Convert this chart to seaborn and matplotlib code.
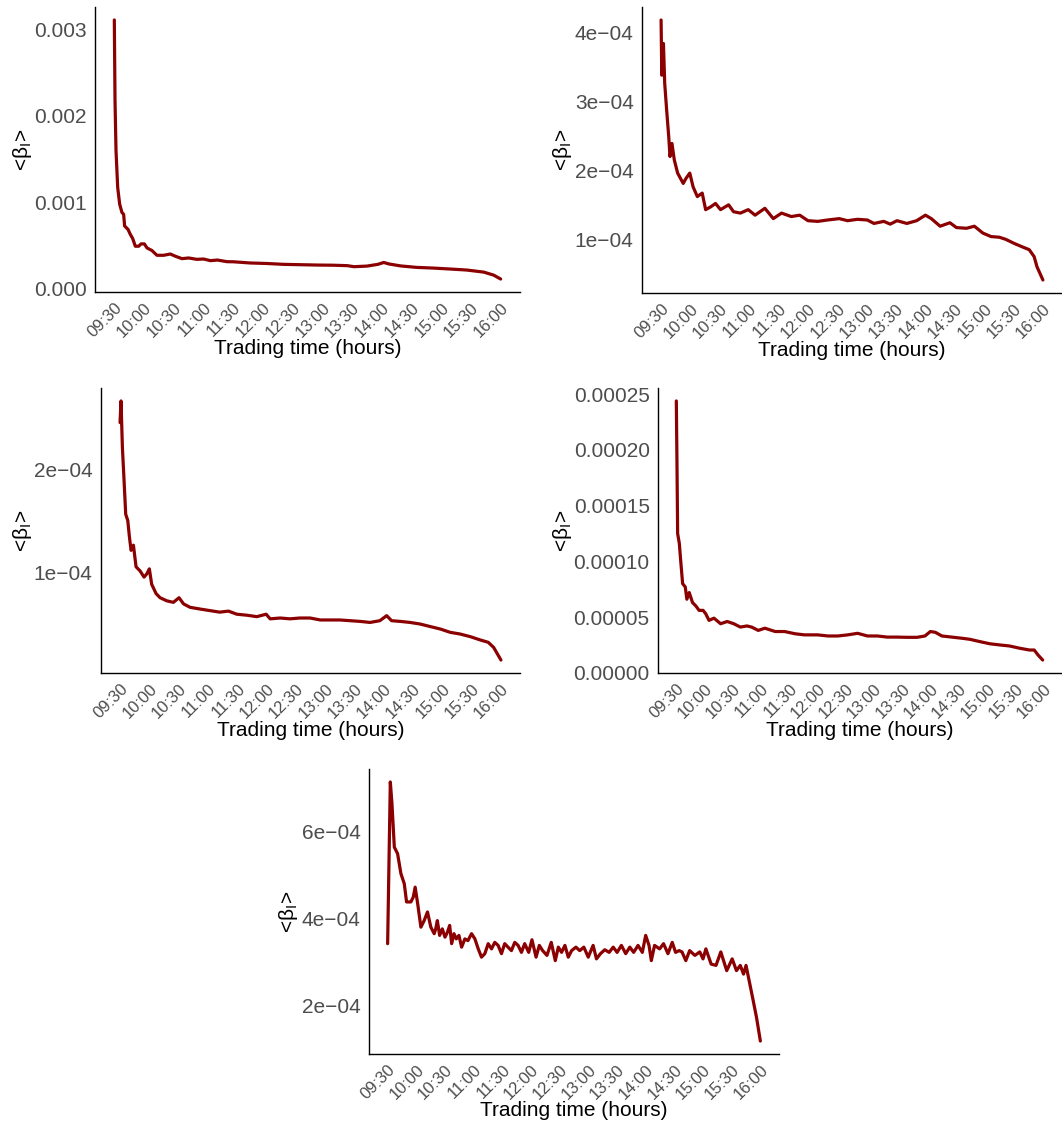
import matplotlib
matplotlib.use("Agg")
import matplotlib.pyplot as plt
import seaborn as sns
import pandas as pd

sns.set_style("white")
plt.rcParams['font.family'] = ['Liberation Sans', 'DejaVu Sans']
plt.rcParams['mathtext.fontset'] = 'custom'
plt.rcParams['mathtext.rm'] = 'Liberation Sans'
plt.rcParams['mathtext.it'] = 'Liberation Sans:italic'

# ---------------- data ----------------
time_ticks = [0, 30, 60, 90, 120, 150, 180, 210, 240, 270, 300, 330, 360, 390]
time_labels = ["09:30", "10:00", "10:30", "11:00", "11:30", "12:00", "12:30",
               "13:00", "13:30", "14:00", "14:30", "15:00", "15:30", "16:00"]

p1_min = [0, 0.7, 1.7, 3.4, 5.4, 7.7, 9.4, 10.4, 13.8, 16.2, 18.5, 21.2, 24.6, 27, 30.3,
          33, 38, 43, 49.8, 56.5, 61.6, 68.3, 75, 83.4, 90, 97, 104, 113.7, 120, 137, 154,
          171, 188, 205, 221, 235, 242, 255, 266, 272, 277, 289, 305, 322, 339, 356, 373, 383, 390]
p1_val = [3.109e-3, 2.18e-3, 1.60e-3, 1.17e-3, 0.977e-3, 0.88e-3, 0.86e-3, 0.724e-3, 0.685e-3,
          0.626e-3, 0.58e-3, 0.49e-3, 0.49e-3, 0.517e-3, 0.517e-3, 0.47e-3, 0.44e-3, 0.385e-3,
          0.385e-3, 0.40e-3, 0.374e-3, 0.346e-3, 0.354e-3, 0.338e-3, 0.342e-3, 0.323e-3, 0.33e-3,
          0.311e-3, 0.31e-3, 0.296e-3, 0.29e-3, 0.28e-3, 0.276e-3, 0.272e-3, 0.27e-3, 0.265e-3,
          0.253e-3, 0.26e-3, 0.28e-3, 0.302e-3, 0.285e-3, 0.262e-3, 0.245e-3, 0.237e-3, 0.226e-3,
          0.214e-3, 0.19e-3, 0.155e-3, 0.11e-3]

p2_min = [0, 0.7, 2.4, 3.7, 5.7, 7.8, 9.1, 11.1, 13.5, 16.9, 22.6, 25.3, 29.3, 32.7, 37, 42,
          45.5, 50.6, 55.6, 60.7, 69, 74, 81, 89, 96, 106, 114.6, 123, 133, 141.6, 150, 160,
          170, 182, 190.5, 200.6, 210.7, 217.4, 227.5, 234, 241, 251, 261, 270, 276, 285, 295,
          301.7, 312, 320, 328.7, 337, 345.5, 352, 360.7, 369, 376, 381, 384, 390]
p2_val = [4.18e-4, 3.38e-4, 3.84e-4, 3.26e-4, 2.87e-4, 2.49e-4, 2.20e-4, 2.39e-4, 2.15e-4,
          1.96e-4, 1.81e-4, 1.88e-4, 1.96e-4, 1.76e-4, 1.62e-4, 1.67e-4, 1.43e-4, 1.47e-4,
          1.52e-4, 1.43e-4, 1.50e-4, 1.40e-4, 1.38e-4, 1.43e-4, 1.35e-4, 1.45e-4, 1.30e-4,
          1.38e-4, 1.33e-4, 1.35e-4, 1.27e-4, 1.26e-4, 1.28e-4, 1.30e-4, 1.27e-4, 1.29e-4,
          1.28e-4, 1.23e-4, 1.26e-4, 1.22e-4, 1.27e-4, 1.23e-4, 1.27e-4, 1.35e-4, 1.30e-4,
          1.19e-4, 1.24e-4, 1.17e-4, 1.16e-4, 1.19e-4, 1.09e-4, 1.04e-4, 1.03e-4, 1.00e-4,
          0.94e-4, 0.89e-4, 0.85e-4, 0.75e-4, 0.60e-4, 0.41e-4]

p3_min = [0, 1, 2.4, 4.1, 5.8, 7.9, 9.6, 11.3, 13.7, 16.4, 20.5, 24.6, 27.3, 30, 32.4, 36.9,
          41, 47.8, 54.6, 60.4, 65, 71.7, 82, 92, 102, 111, 119.5, 130, 140, 149.6, 153.7,
          164, 174, 184, 194.6, 205, 215, 225, 235.6, 246, 256, 266, 273, 278, 287, 297, 307,
          317.6, 328, 338, 348, 358.6, 368.8, 377, 382.5, 390]
p3_val = [2.46e-4, 2.67e-4, 2.22e-4, 1.90e-4, 1.57e-4, 1.51e-4, 1.35e-4, 1.22e-4, 1.27e-4,
          1.06e-4, 1.02e-4, 0.96e-4, 0.99e-4, 1.04e-4, 0.89e-4, 0.80e-4, 0.76e-4, 0.73e-4,
          0.715e-4, 0.76e-4, 0.70e-4, 0.667e-4, 0.65e-4, 0.635e-4, 0.62e-4, 0.63e-4, 0.60e-4,
          0.59e-4, 0.576e-4, 0.60e-4, 0.555e-4, 0.563e-4, 0.555e-4, 0.563e-4, 0.563e-4,
          0.544e-4, 0.544e-4, 0.544e-4, 0.537e-4, 0.53e-4, 0.52e-4, 0.537e-4, 0.586e-4,
          0.537e-4, 0.53e-4, 0.52e-4, 0.505e-4, 0.48e-4, 0.456e-4, 0.424e-4, 0.408e-4,
          0.382e-4, 0.35e-4, 0.327e-4, 0.278e-4, 0.155e-4]

p4_min = [0, 0.7, 1.4, 3.2, 4.9, 6.7, 9.5, 11.2, 13.7, 17.2, 20.7, 24.2, 28.4, 31.2, 34.7, 40,
          47, 54, 61, 68, 75, 80, 87, 94, 105, 115, 126, 136, 150, 161, 171.5, 182, 192.5, 203,
          213.6, 224, 234.6, 245, 255.6, 264, 269.7, 275, 282, 292.5, 303, 311.8, 322, 333, 343,
          354, 364.6, 375, 380, 384, 389]
p4_val = [2.44e-4, 1.88e-4, 1.25e-4, 1.16e-4, 0.98e-4, 0.80e-4, 0.77e-4, 0.66e-4, 0.72e-4,
          0.63e-4, 0.60e-4, 0.56e-4, 0.56e-4, 0.53e-4, 0.47e-4, 0.49e-4, 0.44e-4, 0.46e-4,
          0.44e-4, 0.41e-4, 0.42e-4, 0.41e-4, 0.38e-4, 0.40e-4, 0.37e-4, 0.37e-4, 0.35e-4,
          0.34e-4, 0.34e-4, 0.33e-4, 0.33e-4, 0.34e-4, 0.354e-4, 0.33e-4, 0.33e-4, 0.32e-4,
          0.32e-4, 0.318e-4, 0.318e-4, 0.33e-4, 0.37e-4, 0.363e-4, 0.33e-4, 0.32e-4, 0.31e-4,
          0.30e-4, 0.28e-4, 0.26e-4, 0.25e-4, 0.24e-4, 0.22e-4, 0.204e-4, 0.204e-4, 0.16e-4,
          0.114e-4]

p5_min = [0, 2.8, 4.5, 7, 10.4, 13.9, 17.4, 19.8, 24.3, 26.8, 28.8, 31.3, 34.8, 38.2, 41.7,
          45.2, 48.7,
          50.3, 52, 54.4, 57.2, 60, 62.5, 64.9, 67, 69.4, 71.8, 74.6, 77.4, 80.8, 84, 87.8, 91.3,
          94.8, 98.2, 101.7, 105.2, 108.7, 112.1, 115.6, 119.1, 122.5, 126, 129.5, 133, 136.5,
          140, 143.4, 147.6, 151, 155.3, 158.7, 162.2, 166.7, 171.2, 175.4,
          178.6, 182, 185.5, 189, 192.5, 197, 201, 205.3, 209.9, 215, 218.5, 222.7, 227.2,
          231.8, 236, 240.1, 244.6, 249.1, 253.4, 257.4, 262, 266.5, 270, 273.5, 275.9, 279.3,
          284.6, 288.7, 293.3, 297.8, 301.3,
          305, 308, 312, 316, 321.5, 326.6, 330, 333, 338.5, 343.6, 348.6, 354.8, 360.5, 365,
          369, 372.4, 375, 379, 382.5, 386, 390]
p5_val = [3.42e-4, 7.14e-4, 6.65e-4, 5.64e-4, 5.49e-4, 5.03e-4, 4.80e-4, 4.38e-4, 4.38e-4,
          4.49e-4, 4.72e-4, 4.36e-4, 3.80e-4, 3.95e-4, 4.15e-4, 3.80e-4, 3.65e-4,
          3.76e-4, 3.95e-4, 3.61e-4, 3.76e-4, 3.57e-4, 3.68e-4, 3.84e-4, 3.42e-4, 3.65e-4,
          3.53e-4, 3.61e-4, 3.34e-4, 3.53e-4, 3.49e-4, 3.65e-4, 3.53e-4, 3.30e-4, 3.11e-4,
          3.19e-4, 3.42e-4, 3.30e-4, 3.45e-4, 3.38e-4, 3.19e-4, 3.42e-4, 3.34e-4, 3.26e-4,
          3.45e-4, 3.38e-4, 3.22e-4, 3.42e-4, 3.22e-4, 3.51e-4, 3.11e-4, 3.38e-4, 3.26e-4,
          3.15e-4, 3.45e-4, 3.03e-4,
          3.34e-4, 3.22e-4, 3.38e-4, 3.11e-4, 3.26e-4, 3.34e-4, 3.26e-4, 3.34e-4, 3.11e-4,
          3.38e-4, 3.07e-4, 3.19e-4, 3.28e-4, 3.22e-4, 3.34e-4, 3.22e-4, 3.38e-4, 3.19e-4,
          3.34e-4, 3.22e-4, 3.38e-4, 3.22e-4, 3.61e-4, 3.38e-4, 3.03e-4, 3.38e-4, 3.30e-4,
          3.42e-4, 3.19e-4, 3.45e-4, 3.22e-4,
          3.26e-4, 3.23e-4, 3.03e-4, 3.26e-4, 3.15e-4, 3.23e-4, 3.07e-4, 3.30e-4, 2.95e-4,
          2.92e-4, 3.23e-4, 2.80e-4, 3.07e-4, 2.80e-4, 2.92e-4, 2.72e-4, 2.92e-4, 2.49e-4,
          2.11e-4, 1.72e-4, 1.18e-4]

y1_ticks = [0.0, 0.001, 0.002, 0.003]
y1_labels = ["0.000", "0.001", "0.002", "0.003"]
y2_ticks = [1e-4, 2e-4, 3e-4, 4e-4]
y2_labels = ["1e\u221204", "2e\u221204", "3e\u221204", "4e\u221204"]
y3_ticks = [1e-4, 2e-4]
y3_labels = ["1e\u221204", "2e\u221204"]
y4_ticks = [0.0, 0.00005, 0.00010, 0.00015, 0.00020, 0.00025]
y4_labels = ["0.00000", "0.00005", "0.00010", "0.00015", "0.00020", "0.00025"]
y5_ticks = [2e-4, 4e-4, 6e-4]
y5_labels = ["2e\u221204", "4e\u221204", "6e\u221204"]

x_label = "Trading time (hours)"
y_label = "<" + r"$\mathregular{\beta_I}$" + ">"

# ---------------- layout ----------------
W, H = 1062, 1122
fig = plt.figure(figsize=(W / 100, H / 100), dpi=100)

# (left, top, right, bottom) in pixels, y-label center x in pixels
boxes = [
    (95, 7, 520, 292, 22),
    (642, 7, 1062, 293, 562),
    (101, 388, 520, 673, 22),
    (658, 388, 1061, 673, 562),
    (369, 769, 779, 1054, 288),
]
series = [
    (p1_min, p1_val, y1_ticks, y1_labels),
    (p2_min, p2_val, y2_ticks, y2_labels),
    (p3_min, p3_val, y3_ticks, y3_labels),
    (p4_min, p4_val, y4_ticks, y4_labels),
    (p5_min, p5_val, y5_ticks, y5_labels),
]

line_color = "#8B0000"
tick_color = "#4D4D4D"

for (l, t, r, b, ylx), (xm, yv, yt, yl) in zip(boxes, series):
    ax = fig.add_axes([l / W, 1 - b / H, (r - l) / W, (b - t) / H])
    df = pd.DataFrame({"minute": xm, "beta": yv})
    sns.lineplot(data=df, x="minute", y="beta", ax=ax, color=line_color,
                 linewidth=2.3, estimator=None, sort=False)
    ax.margins(x=0.05, y=0.05)
    ax.set_xticks(time_ticks)
    ax.set_xticklabels(time_labels, rotation=45, ha="right", rotation_mode="anchor",
                       fontsize=12, color=tick_color)
    ax.set_yticks(yt)
    ax.set_yticklabels(yl, fontsize=15, color=tick_color)
    ax.tick_params(axis="both", direction="out", length=4, width=1.0, color="#333333",
                   pad=2)
    for side in ["top", "right"]:
        ax.spines[side].set_visible(False)
    for side in ["left", "bottom"]:
        ax.spines[side].set_color("black")
        ax.spines[side].set_linewidth(1.0)
    ax.set_xlabel(x_label, fontsize=15, color="black")
    ax.xaxis.set_label_coords(0.5, -57 / (b - t))
    ax.xaxis.label.set_va("center")
    ax.set_ylabel(y_label, fontsize=15, color="black")
    ax.yaxis.set_label_coords((ylx - l) / (r - l), 0.5)
    ax.yaxis.label.set_va("center")
    ax.grid(False)

fig.savefig("out.png", dpi=100, facecolor="white")
